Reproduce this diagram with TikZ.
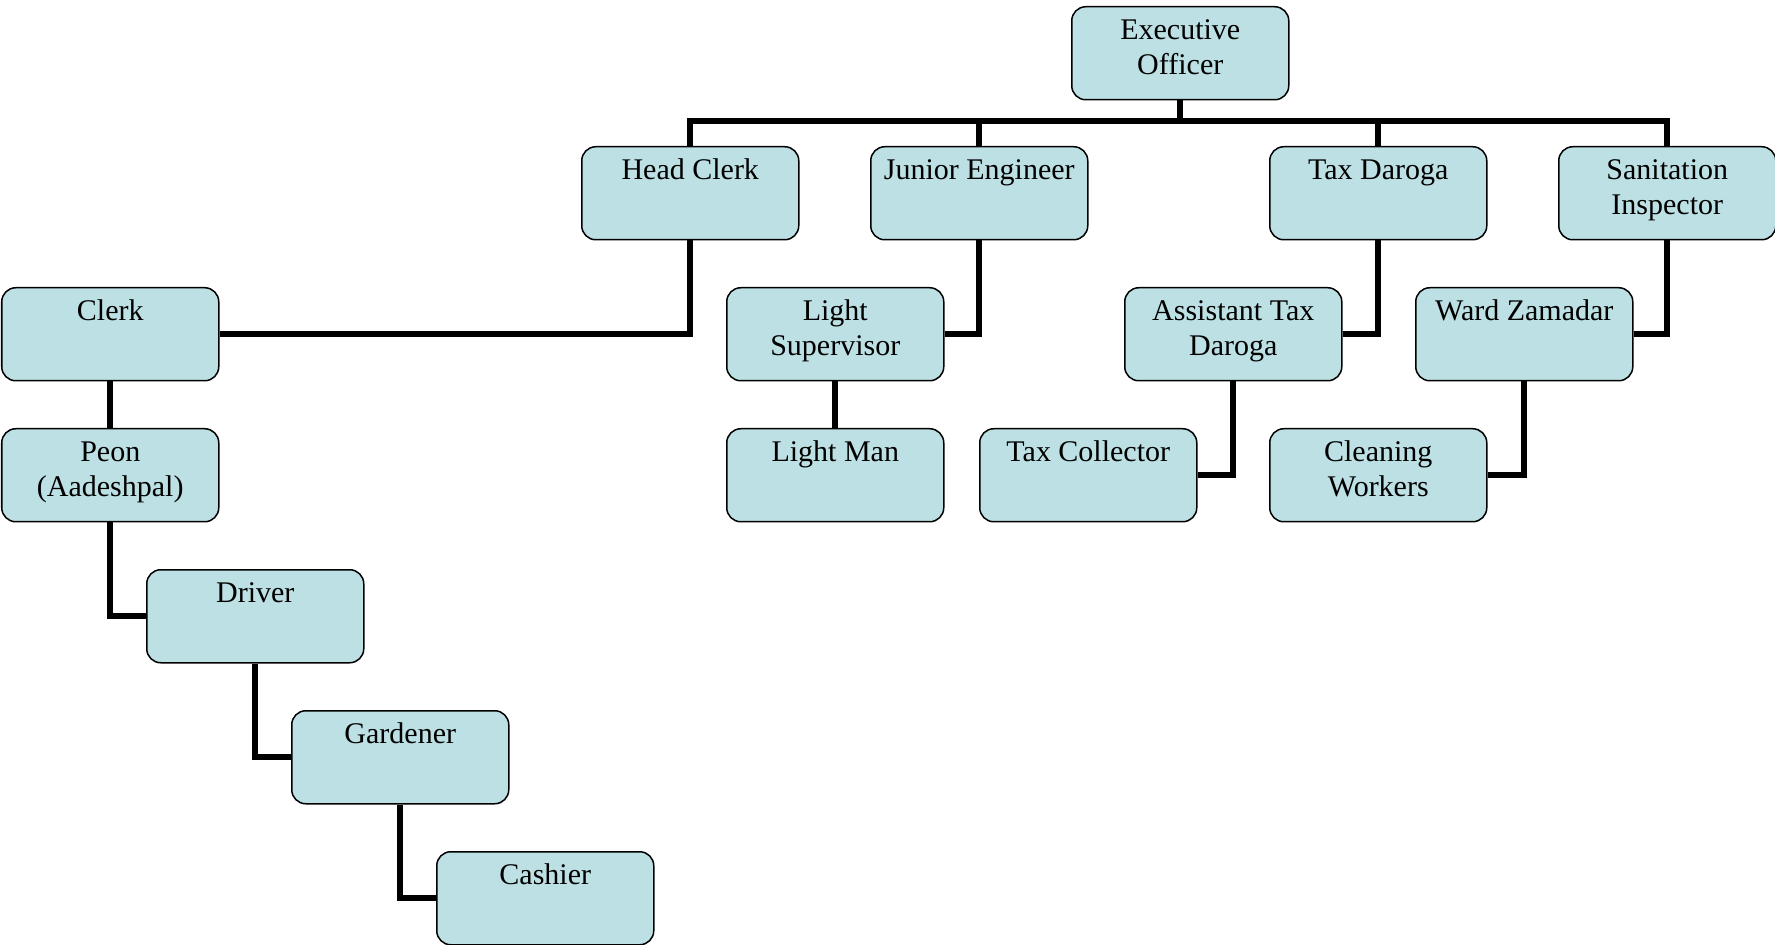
\documentclass[tikz,border=0pt]{standalone}
\usepackage{fontspec}
\setmainfont{Liberation Serif}
\usetikzlibrary{calc}
\definecolor{boxfill}{HTML}{BCE0E3}
% one organisational unit: rounded box with its title set from the top
\newcommand\orgunit[4]{%
  \node[orgbox] (#1) at (#2,#3) {};
  \node[orgtext] (#1-t) at ($(#1.north)+(0,9)$) {\strut #4};}
\begin{document}
\begin{tikzpicture}[x=0.5pt,y=-0.5pt,
  orgbox/.style={draw=black, line width=0.75pt, rounded corners=7pt, fill=boxfill,
    minimum width=108.5pt, minimum height=46.5pt, anchor=north west, inner sep=0pt},
  orgtext/.style={anchor=north, inner sep=0pt, align=center,
    font=\fontsize{15}{17.5}\selectfont},
  link/.style={line width=2.8pt, line join=miter}]
\useasboundingbox (0,0) rectangle (1775,945);

% top
\orgunit{exec}{1071}{6}{Executive\\Officer}
% heads of sections
\orgunit{hclerk}{581}{146}{Head Clerk}
\orgunit{jeng}{870}{146}{Junior Engineer}
\orgunit{taxd}{1269}{146}{Tax Daroga}
\orgunit{sanit}{1558}{146}{Sanitation\\Inspector}
% second level
\orgunit{clerk}{1}{287}{Clerk}
\orgunit{lsup}{726}{287}{Light\\Supervisor}
\orgunit{atd}{1124}{287}{Assistant Tax\\Daroga}
\orgunit{wz}{1415}{287}{Ward Zamadar}
% third level
\orgunit{peon}{1}{428}{Peon\\(Aadeshpal)}
\orgunit{lman}{726}{428}{Light Man}
\orgunit{taxc}{979}{428}{Tax Collector}
\orgunit{clean}{1269}{428}{Cleaning\\Workers}
% office staff staircase
\orgunit{driver}{146}{569}{Driver}
\orgunit{garden}{291}{710}{Gardener}
\orgunit{cash}{436}{851}{Cashier}

% bus below the executive officer
\coordinate (bus) at ($(hclerk.north)+(0,-25)$);
\draw[link] (hclerk.north) |- (sanit.north |- bus) -- (sanit.north);
\draw[link] (exec.south) -- (exec.south |- bus);
\draw[link] (jeng.north) -- (jeng.north |- bus);
\draw[link] (taxd.north) -- (taxd.north |- bus);

% section heads to their staff
\draw[link] (hclerk.south) |- (clerk.east);
\draw[link] (jeng.south) |- (lsup.east);
\draw[link] (taxd.south) |- (atd.east);
\draw[link] (sanit.south) |- (wz.east);

\draw[link] (clerk.south) -- (peon.north);
\draw[link] (lsup.south) -- (lman.north);
\draw[link] (atd.south) |- (taxc.east);
\draw[link] (wz.south) |- (clean.east);

\draw[link] (peon.south) |- (driver.west);
\draw[link] (driver.south) |- (garden.west);
\draw[link] (garden.south) |- (cash.west);
\end{tikzpicture}
\end{document}
